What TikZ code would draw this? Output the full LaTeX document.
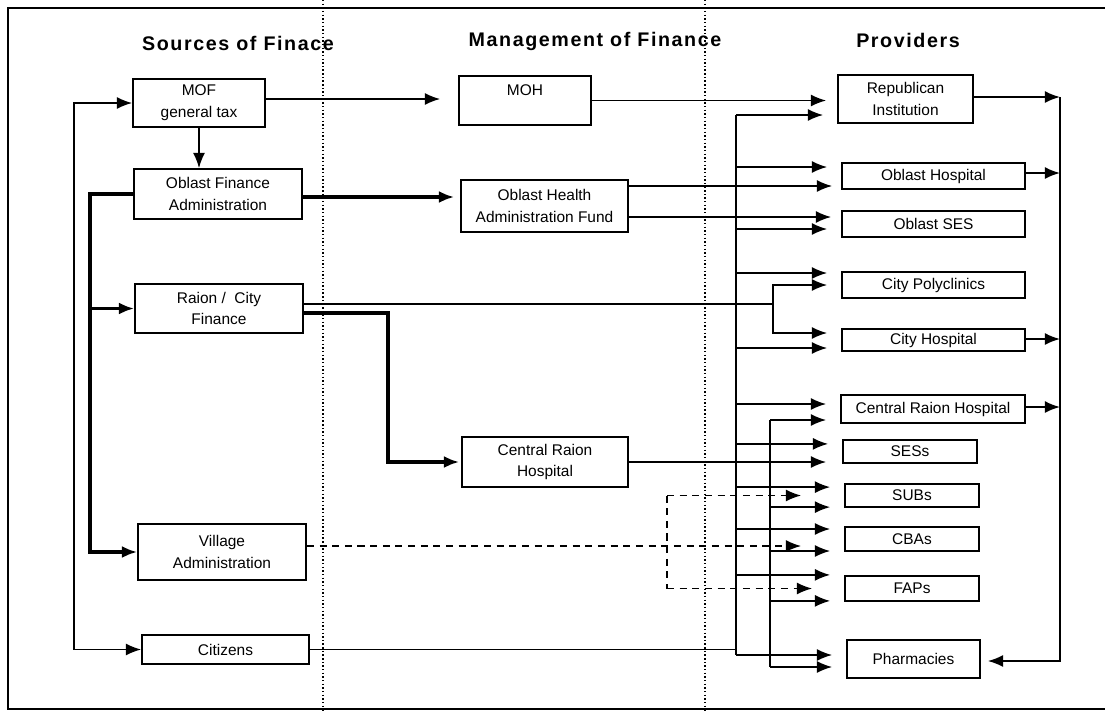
\documentclass[tikz,border=0pt]{standalone}
\usepackage{fontspec}
\setmainfont{Liberation Sans}
\newfontfamily\headfont[LetterSpace=8]{Liberation Sans}
\usetikzlibrary{arrows.meta, positioning, calc}

\begin{document}
\begin{tikzpicture}[
	  x=0.025cm, y=-0.025cm,
	  font=\fontsize{11}{15.5}\selectfont,
	  >={Latex[length=3.8mm,width=3mm]},
	  box/.style={
	    draw,
	    line width=1.2pt,
	    align=center,
	    inner sep=1pt
	  },
	  head/.style={font=\headfont\bfseries\fontsize{14}{16}\selectfont},
	  line/.style={line width=1.2pt},
	  arrow/.style={->, line width=1.2pt},
	  thickarrow/.style={->, line width=2.6pt},
	  dashline/.style={line width=1.2pt, dash pattern=on 5pt off 4pt},
	  dasharrow/.style={dashline, ->},
	  gap/.style={shorten >=#1},
	  gap/.default=3.5mm,
	  divider/.style={line width=1.4pt, dash pattern=on 1pt off 1.6pt}
	]
	\useasboundingbox (0,0) rectangle (1105,712);
	
	\draw[line width=1.4pt] (1105,8) -- (8,8) -- (8,709) -- (1105,709);
	\draw[divider] (323,0) -- (323,712);
	\draw[divider] (705,0) -- (705,712);
	
	\node[head] (hsrc) at (238,43) {Sources of Finace};
	\node[head] (hman) at (595,41) {Management of Finance};
	\node[head] (hprov) at (908,40) {Providers};
	
	\node[box, minimum width=33mm, minimum height=12mm] (mof) at (199,103) {MOF\\general tax};
	\node[box, minimum width=42mm, minimum height=12.5mm] (ofa) at (218,194) {Oblast Finance\\Administration};
	\node[box, minimum width=42mm, minimum height=12.25mm] (rcf) at (219,308.5) {Raion / \ City\\Finance};
	\node[box, minimum width=42mm, minimum height=14mm] (vil) at (222,552) {Village\\Administration};
	\node[box, minimum width=41.75mm, minimum height=7.25mm] (cit) at (225.5,649.5) {Citizens};
	
	\node[box, minimum width=33mm, minimum height=12.25mm] (moh) at (525,100.5) {MOH\\\phantom{X}};
	\node[box, minimum width=41.75mm, minimum height=13mm] (ohf) at (544.5,206) {Oblast Health\\Administration Fund};
	\node[box, minimum width=41.5mm, minimum height=12.5mm] (crhm) at (545,462) {Central Raion\\Hospital};
	
	\node[box, minimum width=33.75mm, minimum height=12mm] (rep) at (905.5,99) {Republican\\Institution};
	\node[box, minimum width=45.75mm, minimum height=6.5mm] (obh) at (933.5,176) {Oblast Hospital};
	\node[box, minimum width=45.75mm, minimum height=6.5mm] (obs) at (933.5,224) {Oblast SES};
	\node[box, minimum width=45.75mm, minimum height=6.5mm] (cpo) at (933.5,285) {City Polyclinics};
	\node[box, minimum width=45.75mm, minimum height=5.5mm] (chos) at (933.5,340) {City Hospital};
	\node[box, minimum width=46mm, minimum height=7mm] (crhr) at (933,409) {Central Raion Hospital};
	\node[box, minimum width=33.5mm, minimum height=5.75mm] (sess) at (910,451.5) {SESs};
	\node[box, minimum width=33.5mm, minimum height=5.75mm] (subs) at (912,495.5) {SUBs};
	\node[box, minimum width=33.5mm, minimum height=6mm] (cbas) at (912,539) {CBAs};
	\node[box, minimum width=33.5mm, minimum height=6.25mm] (faps) at (912,588.5) {FAPs};
	\node[box, minimum width=33.25mm, minimum height=9.5mm] (pha) at (913.5,659) {Pharmacies};
	
	\coordinate (lloop) at (74,400);
	\coordinate (lbus) at (90,0);
	\coordinate (cfork) at (773,0);
	\coordinate (rdrop) at (388,0);
	\coordinate (vfork) at (667,0);
	\coordinate (bus1) at (736,0);
	\coordinate (bus2) at (770,0);
	\coordinate (rbus) at (1060,0);
	
	\draw[<->, line width=1.2pt] (mof.west) -| (lloop) |- (cit.west);
	\draw[arrow] (mof.south) -- (mof.south |- ofa.north);
	\draw[thickarrow] (ofa.west) -| (lbus |- vil.west) -- (vil.west);
	\draw[thickarrow] (lbus |- rcf.west) -- (rcf.west);
	
	\draw[arrow, gap=4.5mm] ([yshift=1mm]mof.east) -- ([yshift=1mm]mof.east -| moh.west);
	\draw[thickarrow, gap=1.5mm] ([yshift=-0.75mm]ofa.east) -- ([yshift=-0.75mm]ofa.east -| ohf.west);
	\draw[arrow, gap=2.75mm] (moh.east) -- (moh.east -| rep.west);
	\draw[arrow, gap=2.25mm] ([yshift=5mm]ohf.east) -- ([yshift=5mm]ohf.east -| obh.west);
	\draw[arrow, gap=2.5mm] ([yshift=-2.75mm]ohf.east) -- ([yshift=-2.75mm]ohf.east -| obs.west);
	
	\draw[line] ([yshift=1.1mm]rcf.east) -- ([yshift=1.1mm]rcf.east -| cfork) coordinate (cf);
	\draw[arrow, gap] (cf) |- (cpo.west);
	\draw[arrow, gap] (cf) |- ([yshift=1.75mm]chos.west);
	\draw[thickarrow, gap=0.5mm] ([yshift=-1.1mm]rcf.east) -| (rdrop |- crhm.west) -- (crhm.west);
	
	\draw[arrow, gap=4mm] (crhm.east) -- (crhm.east -| sess.west);
	\draw[line] ([yshift=-2.75mm]crhr.west -| bus2) -- ([yshift=-2mm]pha.west -| bus2);
	\foreach \n/\dy in {crhr/-2.75, subs/-2.9, cbas/-3, faps/-3.1, pha/-2}
	  \draw[arrow, gap] ([yshift=\dy mm]\n.west -| bus2) -- ([yshift=\dy mm]\n.west);
	
	\draw[line] (cit.east) -- (cit.east -| bus1);
	\draw[line] ([yshift=-4mm]rep.west -| bus1) -- ([yshift=1mm]pha.west -| bus1);
	\foreach \n/\dy in {rep/-4, obh/2.25, obs/-1.25, cpo/3, chos/-2, crhr/1.25, sess/1.9, subs/2.1, cbas/2.5, faps/3.4, pha/1}
	  \draw[arrow, gap] ([yshift=\dy mm]\n.west -| bus1) -- ([yshift=\dy mm]\n.west);
	
	\draw[dasharrow, gap=10.75mm] ([yshift=1.5mm]vil.east) -- ([yshift=1.5mm]vil.east -| cbas.west);
	\draw[dashline] (subs.west -| vfork) -- (faps.west -| vfork);
	\draw[dasharrow, gap=10.75mm] (subs.west -| vfork) -- (subs.west);
	\draw[dasharrow, gap=8mm] (faps.west -| vfork) -- (faps.west);
	
	\foreach \n/\dy in {rep/0.5, obh/0.75, chos/0.25, crhr/0.5}
	  \draw[arrow] ([yshift=\dy mm]\n.east) -- ([yshift=\dy mm]\n.east -| rbus);
	\draw[arrow, gap=1.75mm] ([yshift=0.5mm]rep.east -| rbus) |- ([yshift=-0.5mm]pha.east);
	
	\end{tikzpicture}
\end{document}
